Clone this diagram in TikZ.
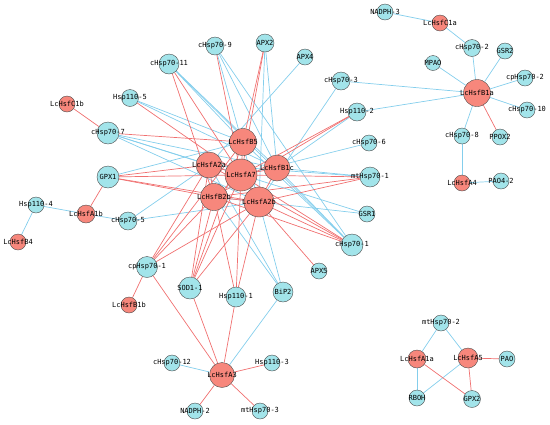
\documentclass[tikz,border=0pt]{standalone}
\usepackage{fontspec}
\newfontfamily\netfont{DejaVu Sans Mono}
\usetikzlibrary{backgrounds}

\definecolor{hsfred}{RGB}{247,135,124}
\definecolor{genecyan}{RGB}{162,228,234}
\definecolor{linkred}{RGB}{240,112,112}
\definecolor{linkblue}{RGB}{132,206,236}

\tikzset{
  hsf/.style={circle, draw=black!70, fill=hsfred, inner sep=0pt, minimum size=#1},
  gene/.style={circle, draw=black!70, fill=genecyan, inner sep=0pt, minimum size=#1},
  tag/.style={font=\netfont\fontsize{7}{8}\selectfont, inner sep=0pt},
  redlink/.style={linkred, line width=0.7pt},
  bluelink/.style={linkblue, line width=0.7pt},
}

\begin{document}
\begin{tikzpicture}[x=1pt, y=-1pt]
\useasboundingbox (0,0) rectangle (550,424);
% factores Hsf
\foreach \n/\x/\y/\d in {LcHsfA7/241/175/32, LcHsfA2b/259/202/30, LcHsfB5/243/142/27,
    LcHsfA2a/209/165/26, LcHsfB1c/277/168/26, LcHsfB2b/214/197/27, LcHsfB1a/477/93/27,
    LcHsfA3/222/375/25, LcHsfC1a/440/23/16, LcHsfC1b/67/104/16, LcHsfA1b/86/214/18,
    LcHsfB4/18/242/16, LcHsfB1b/129/305/16, LcHsfA4/462/183/16, LcHsfA1a/417/359/18,
    LcHsfA5/468/358/20}
  \node[hsf=\d pt, label={[tag]center:\n}] (\n) at (\x,\y) {};
% genes
\foreach \n/\x/\y/\d in {cHsp70-9/215/46/18, APX2/265/43/18, cHsp70-11/169/64/20,
    Hsp110-5/130/98/17, cHsp70-7/108/133/22, GPX1/108/177/22, Hsp110-4/36/205/16,
    cHsp70-5/128/221/18, cpHsp70-1/147/267/21, SOD1-1/190/288/22, Hsp110-1/236/297/20,
    BiP2/283/292/20, APX5/319/271/16, cHsp70-1/352/245/22, GSR1/367/214/16,
    mtHsp70-1/370/177/20, cHsp70-6/369/143/16, Hsp110-2/357/112/18, cHsp70-3/341/81/18,
    APX4/305/57/16, NADPH-3/385/12/16, cHsp70-2/472/48/17, GSR2/505/51/16, MPAO/433/63/15,
    cpHsp70-2/525/78/16, cHsp70-10/527/110/16, cHsp70-8/462/136/16, PPOX2/500/137/16,
    PAO4-2/501/181/16, cHsp70-12/172/363/16, Hsp110-3/272/363/16, NADPH-2/195/411/16,
    mtHsp70-3/260/411/16, mtHsp70-2/441/323/16, PAO/507/359/16, RBOH/417/398/16,
    GPX2/472/399/17}
  \node[gene=\d pt, label={[tag]center:\n}] (\n) at (\x,\y) {};
% enlaces
\begin{scope}[on background layer]
\foreach \a/\b in {NADPH-3/LcHsfC1a, LcHsfC1a/cHsp70-2, cHsp70-2/LcHsfB1a, GSR2/LcHsfB1a,
    MPAO/LcHsfB1a, cpHsp70-2/LcHsfB1a, cHsp70-10/LcHsfB1a, cHsp70-8/LcHsfB1a,
    cHsp70-8/LcHsfA4, LcHsfA4/PAO4-2, cHsp70-3/LcHsfB1a, Hsp110-2/LcHsfB1a,
    Hsp110-4/LcHsfA1b, Hsp110-4/LcHsfB4, LcHsfA1b/cHsp70-5, BiP2/LcHsfA3,
    cHsp70-12/LcHsfA3, mtHsp70-2/LcHsfA1a, mtHsp70-2/LcHsfA5, LcHsfA1a/RBOH, LcHsfA5/RBOH,
    cHsp70-9/LcHsfB1c, cHsp70-9/LcHsfA2b, cHsp70-9/cHsp70-1, APX2/LcHsfB1c, APX2/LcHsfA2b,
    cHsp70-11/LcHsfB1c, cHsp70-11/cHsp70-1, cHsp70-11/LcHsfB5, Hsp110-5/LcHsfB5,
    Hsp110-5/LcHsfB1c, cHsp70-7/LcHsfA7, cHsp70-7/LcHsfB1c, cHsp70-7/LcHsfA2b,
    cHsp70-7/GSR1, GPX1/LcHsfB5, cHsp70-5/LcHsfA2a, cHsp70-5/LcHsfA2b, BiP2/LcHsfA2a,
    BiP2/LcHsfB2b, BiP2/LcHsfA2b, GSR1/LcHsfB2b, cHsp70-1/LcHsfB5, cHsp70-1/LcHsfB1c,
    mtHsp70-1/LcHsfB1c, mtHsp70-1/LcHsfA2a, cHsp70-6/LcHsfA7, Hsp110-2/LcHsfB1c,
    cHsp70-3/LcHsfA2b, APX4/LcHsfA2a}
  \draw[bluelink] (\a) -- (\b);
\foreach \a/\b in {LcHsfC1b/cHsp70-7, LcHsfA1b/GPX1, cpHsp70-1/LcHsfB1b,
    cpHsp70-1/LcHsfA3, SOD1-1/LcHsfA3, Hsp110-1/LcHsfA3, Hsp110-3/LcHsfA3,
    NADPH-2/LcHsfA3, mtHsp70-3/LcHsfA3, LcHsfA1a/GPX2, LcHsfA5/PAO, LcHsfA5/GPX2,
    PPOX2/LcHsfB1a, cHsp70-9/LcHsfA7, APX2/LcHsfB5, APX2/LcHsfA7, cHsp70-11/LcHsfB2b,
    cHsp70-11/LcHsfA7, Hsp110-5/LcHsfA7, cHsp70-7/LcHsfB5, GPX1/LcHsfA2a, GPX1/LcHsfA7,
    GPX1/LcHsfB2b, GPX1/LcHsfA2b, cpHsp70-1/LcHsfA2a, cpHsp70-1/LcHsfB2b,
    cpHsp70-1/LcHsfA2b, cpHsp70-1/LcHsfB5, SOD1-1/LcHsfA2a, SOD1-1/LcHsfB2b,
    SOD1-1/LcHsfA7, SOD1-1/LcHsfA2b, SOD1-1/LcHsfB5, Hsp110-1/LcHsfB2b, Hsp110-1/LcHsfA7,
    Hsp110-1/LcHsfA2b, APX5/LcHsfA2b, cHsp70-1/LcHsfA2a, cHsp70-1/LcHsfA7,
    cHsp70-1/LcHsfB2b, cHsp70-1/LcHsfA2b, mtHsp70-1/LcHsfA7, mtHsp70-1/LcHsfB2b,
    mtHsp70-1/LcHsfA2b, Hsp110-2/LcHsfA7, Hsp110-2/LcHsfB2b, LcHsfB5/LcHsfA7,
    LcHsfA2a/LcHsfA7, LcHsfA7/LcHsfB1c, LcHsfA7/LcHsfB2b, LcHsfA7/LcHsfA2b,
    LcHsfB2b/LcHsfA2b, LcHsfA2a/LcHsfB2b, LcHsfB1c/LcHsfA2b}
  \draw[redlink] (\a) -- (\b);
\end{scope}
\end{tikzpicture}
\end{document}
